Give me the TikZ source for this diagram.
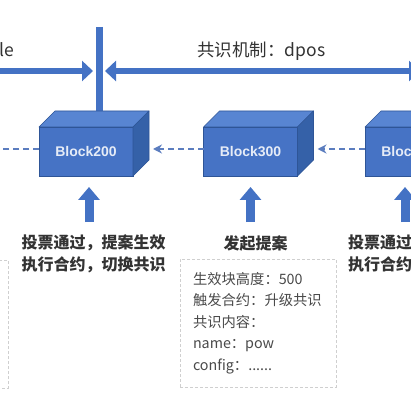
\documentclass[tikz,border=0pt]{standalone}
\usepackage{fontspec}
\setmainfont{Noto Sans CJK SC}
\newfontfamily\latfont{Liberation Sans}
\usetikzlibrary{arrows.meta,calc}
\definecolor{arrowblue}{HTML}{4472C4}
\definecolor{frontblue}{HTML}{4673C5}
\definecolor{topblue}{HTML}{5885D2}
\definecolor{sideblue}{HTML}{3561A8}
\definecolor{edgeblue}{HTML}{2E5597}
\definecolor{dashblue}{HTML}{5B7DBF}
\definecolor{txtgray}{HTML}{333333}
\definecolor{boxgray}{HTML}{CFCFCF}
\definecolor{infogray}{HTML}{4A4A4A}
\definecolor{blocktext}{HTML}{E6ECF7}
\newcommand\blockfaces[1]{%
  \filldraw[fill=topblue,draw=edgeblue,line width=0.6pt,line join=round] (#1.north west) -- ++(16,-16) -- ++(94,0) -- (#1.north east) -- cycle;
  \filldraw[fill=sideblue,draw=edgeblue,line width=0.6pt,line join=round] (#1.north east) -- ++(16,-16) -- ++(0,49) -- (#1.south east) -- cycle;}
\begin{document}
\begin{tikzpicture}[x=1pt,y=-1pt,
  blockfront/.style={draw=edgeblue, line width=0.6pt, fill=frontblue, minimum width=94pt, minimum height=49pt, inner sep=0pt, outer sep=0pt, text=blocktext, font=\latfont\bfseries\fontsize{14}{16}\selectfont},
  bigarrow/.style={draw=arrowblue, line width=5.5pt},
  bigtip/.tip={Triangle[width=20pt,length=11pt]},
  barline/.style={draw=arrowblue, line width=7pt},
  uparrow/.style={draw=arrowblue, line width=9pt, -{Triangle[width=21pt,length=13pt]}},
  dasharrow/.style={draw=dashblue, line width=1.4pt, dash pattern=on 6pt off 4pt, -{Stealth[length=9pt,width=9pt]}},
  toplabel/.style={inner sep=0pt, text=txtgray, font=\fontsize{17.5}{20}\selectfont},
  lbl/.style={inner sep=0pt, align=center, text=txtgray, font=\bfseries\fontsize{16}{22}\selectfont},
  infobox/.style={draw=boxgray, line width=0.7pt, dash pattern=on 3pt off 2pt, minimum width=156pt, minimum height=128pt, text width=130pt, inner xsep=13pt, align=left, text=infogray, font=\fontsize{14.3}{21.5}\selectfont}
]
\useasboundingbox (0,0) rectangle (411,411);
\clip (0,0) rectangle (411,411);
\fill[white] (0,0) rectangle (411,411);

% top labels
\node[toplabel, anchor=east] (mech1) at (14.5,51) {共识机制：single};
\node[toplabel, anchor=west] (mech2) at (197,51) {共识机制：dpos};

% coordinates for top arrows
\coordinate (lstart) at (-10,71);
\coordinate (ltip) at (93,71);
\coordinate (rtipa) at (105,71);
\coordinate (rtipb) at (420,71);
\coordinate (bartop) at (99,27);

% blocks (front faces)
\node[blockfront] (b200) at (86,151.5) {Block200};
\node[blockfront] (b300) at (250.5,151.5) {Block300};
\node[blockfront] (b400) at (412,151.5) {Block400};

% vertical bar (behind blocks)
\draw[barline] (bartop) -- ($(b200.north)+(13,-15)$);

\blockfaces{b200}
\blockfaces{b300}
\blockfaces{b400}

% thick horizontal arrows
\draw[bigarrow, -bigtip] (lstart) -- (ltip);
\draw[bigarrow, bigtip-bigtip] (rtipa) -- (rtipb);

% dashed chain arrows
\coordinate (lfree) at (-10,149);
\draw[dasharrow] ($(b200.west)+(0,-2.5)$) -- (lfree);
\draw[dasharrow] ($(b300.west)+(0,-2.5)$) -- ($(b200.east)+(20,-2.5)$);
\draw[dasharrow] ($(b400.west)+(0,-2.5)$) -- ($(b300.east)+(20,-2.5)$);

% up arrows
\draw[uparrow] ($(b200.south)+(3,46)$) -- ($(b200.south)+(3,11)$);
\draw[uparrow] ($(b300.south)+(0,46)$) -- ($(b300.south)+(0,11)$);
\draw[uparrow] ($(b400.south)+(-7,46)$) -- ($(b400.south)+(-7,11)$);

% labels
\node[lbl] (lab200) at (93.5,254) {投票通过，提案生效\\执行合约，切换共识};
\node[lbl] (lab300) at (255.5,243) {发起提案};
\node[lbl, anchor=west] (lab400) at (348,254) {投票通过，提案生效\\执行合约，切换共识};

% info boxes
\node[infobox, minimum width=56pt, text width=30pt] (leftbox) at (-20,324) {};
\node[infobox] (info) at (258,323) {生效块高度：500\\触发合约：升级共识\\共识内容：\\name：pow\\config：......};
\end{tikzpicture}
\end{document}
